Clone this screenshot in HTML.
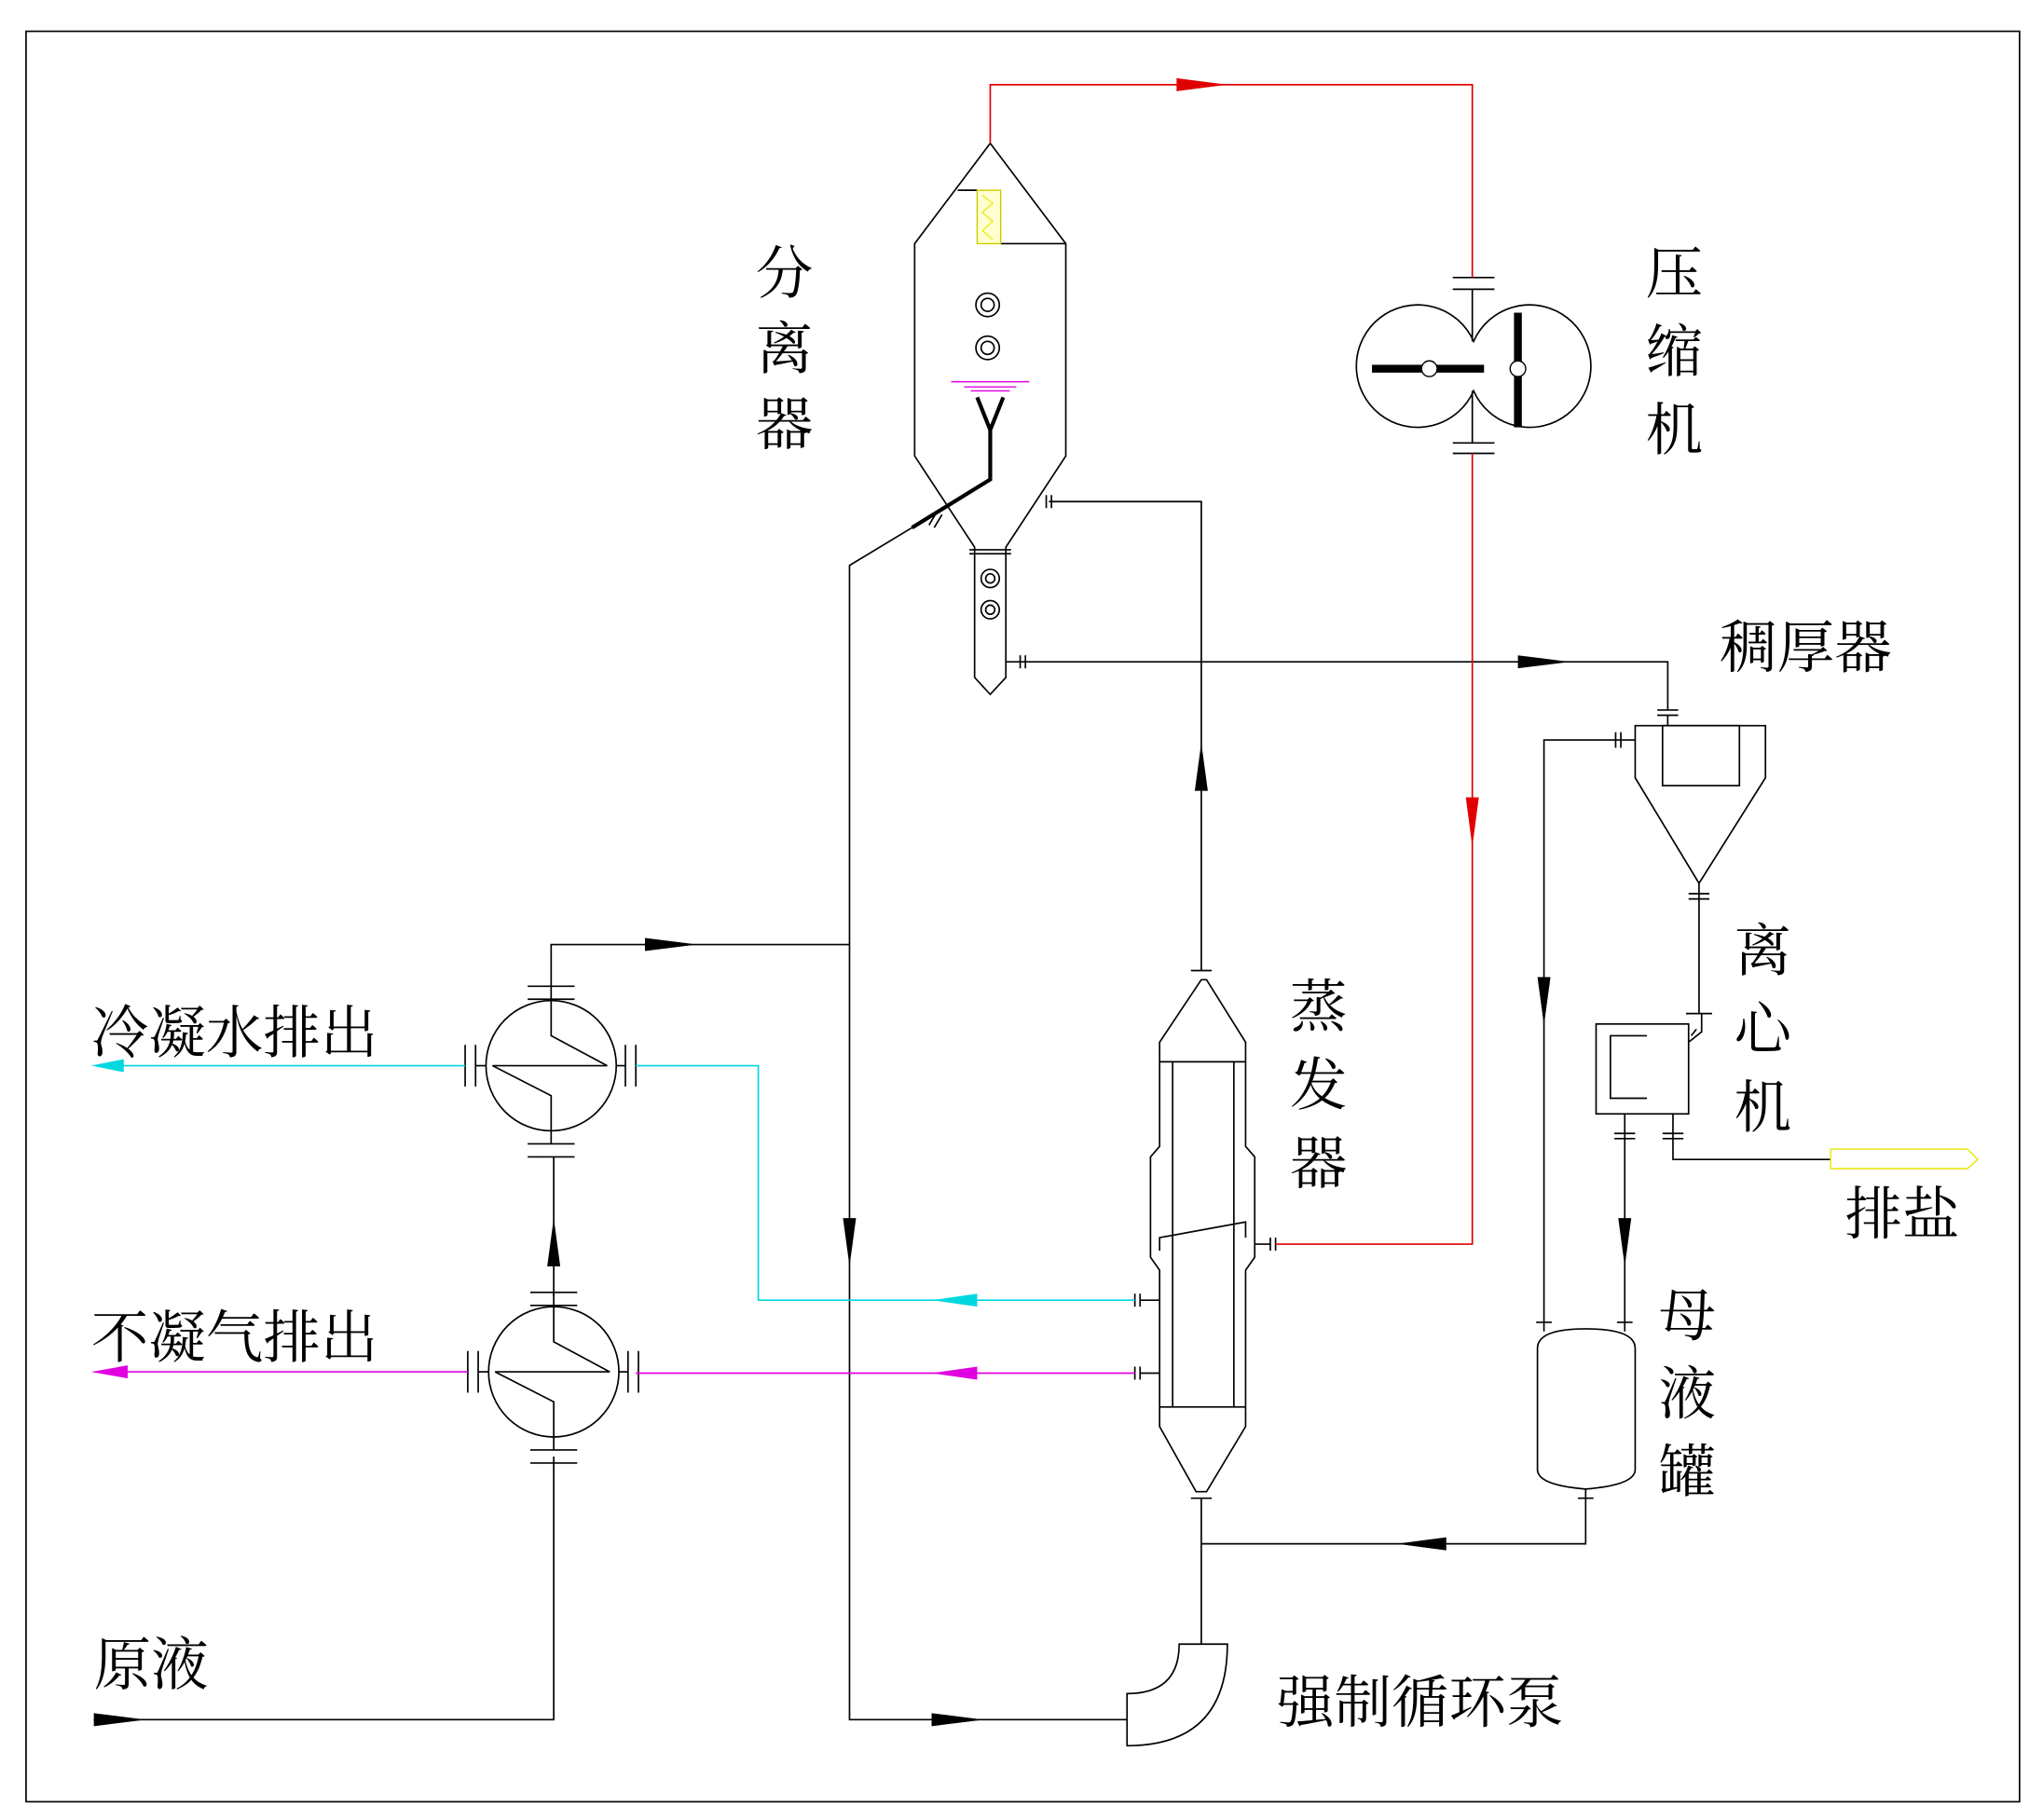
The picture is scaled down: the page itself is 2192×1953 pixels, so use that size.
<!DOCTYPE html>
<html><head><meta charset="utf-8"><style>
html,body{margin:0;padding:0;background:#fff}
svg{display:block}
text{font-family:"Liberation Serif","Noto Serif CJK SC","Noto Sans CJK SC",serif;font-size:44px;fill:#000}
</style></head><body>
<svg width="2192" height="1953" viewBox="0 0 1568 1397" xmlns="http://www.w3.org/2000/svg">
<rect width="1568" height="1397" fill="#fff"/>
<g fill="none" stroke="#000" stroke-width="1.2">
<rect x="20" y="24" width="1530" height="1359"/>
<!-- separator -->
<path d="M760,110 L702,187 L702,350 L748,420 L748,520 L760,533 L772,520 L772,420 L818,350 L818,187 Z"/>
<line x1="744" y1="422" x2="776" y2="422"/><line x1="744" y1="425" x2="776" y2="425"/>
<line x1="735" y1="146" x2="750" y2="146"/><line x1="768" y1="187" x2="818" y2="187"/>
<circle cx="758" cy="234" r="9"/><circle cx="758" cy="234" r="5"/>
<circle cx="758" cy="267" r="9"/><circle cx="758" cy="267" r="5"/>
<circle cx="760" cy="444" r="7"/><circle cx="760" cy="444" r="3.5"/>
<circle cx="760" cy="468" r="7"/><circle cx="760" cy="468" r="3.5"/>
<!-- compressor -->
<path d="M1131,262 A47,47 0 1 0 1131,300 A47,47 0 1 0 1131,262 Z"/>
<line x1="1115" y1="213" x2="1147" y2="213"/><line x1="1115" y1="222" x2="1147" y2="222"/>
<line x1="1115" y1="340" x2="1147" y2="340"/><line x1="1115" y1="348" x2="1147" y2="348"/>
<line x1="1130" y1="222" x2="1130" y2="262"/><line x1="1130" y1="300" x2="1130" y2="340"/>
<!-- black process lines -->
<path d="M700,405 L652,434 L652,1320 L865,1320"/>
<path d="M805,385 L922,385 L922,745"/>
<path d="M772,508 L1280,508 L1280,545"/>
<line x1="803" y1="380" x2="803" y2="390"/><line x1="807" y1="380" x2="807" y2="390"/>
<line x1="783" y1="503" x2="783" y2="513"/><line x1="787" y1="503" x2="787" y2="513"/>
<line x1="713" y1="403" x2="719" y2="393"/><line x1="717" y1="405" x2="723" y2="395"/>
<!-- thickener -->
<path d="M1255,557 L1355,557 L1355,597 L1304,678 L1255,597 Z"/>
<rect x="1276" y="557" width="59" height="46"/>
<line x1="1272" y1="545" x2="1288" y2="545"/><line x1="1272" y1="549" x2="1288" y2="549"/>
<line x1="1280" y1="549" x2="1280" y2="557"/>
<path d="M1255,568 L1185,568 L1185,1015"/>
<line x1="1240" y1="562" x2="1240" y2="574"/><line x1="1244" y1="562" x2="1244" y2="574"/>
<line x1="1296" y1="686" x2="1312" y2="686"/><line x1="1296" y1="690" x2="1312" y2="690"/>
<path d="M1304,678 L1304,778"/>
<!-- centrifuge -->
<rect x="1225" y="786" width="71" height="69"/>
<path d="M1264,795 L1236,795 L1236,843 L1264,843"/>
<path d="M1296,800 L1306,792 L1306,778 M1298,795 L1302,790 M1294,778 L1314,778"/>
<path d="M1247,855 L1247,1015 M1284,855 L1284,890 L1405,890"/>
<line x1="1239" y1="870" x2="1255" y2="870"/><line x1="1239" y1="874" x2="1255" y2="874"/>
<line x1="1276" y1="870" x2="1292" y2="870"/><line x1="1276" y1="874" x2="1292" y2="874"/>
<!-- mother tank -->
<path d="M1180,1035 Q1180,1020 1217,1020 Q1255,1020 1255,1035 L1255,1128 Q1255,1140 1217,1143 Q1180,1140 1180,1128 Z"/>
<line x1="1179" y1="1015" x2="1191" y2="1015"/><line x1="1241" y1="1015" x2="1253" y2="1015"/>
<line x1="1185" y1="1015" x2="1185" y2="1022"/><line x1="1247" y1="1015" x2="1247" y2="1022"/>
<path d="M1217,1143 L1217,1185 L922,1185"/>
<line x1="1211" y1="1150" x2="1223" y2="1150"/>
<!-- evaporator -->
<path d="M922,752 L890,800 L890,880 L883,888 L883,965 L890,975 L890,1095 L918,1145 L926,1145 L956,1095 L956,975 L963,965 L963,888 L956,880 L956,800 L926,752 Z"/>
<line x1="890" y1="815" x2="956" y2="815"/><line x1="890" y1="1080" x2="956" y2="1080"/>
<line x1="900" y1="815" x2="900" y2="1080"/><line x1="947" y1="815" x2="947" y2="1080"/>
<path d="M890,960 L890,950 L956,938 L956,950"/>
<line x1="914" y1="745" x2="930" y2="745"/><line x1="914" y1="1150" x2="930" y2="1150"/>
<path d="M922,1150 L922,1262"/>
<line x1="963" y1="955" x2="975" y2="955"/><line x1="975" y1="950" x2="975" y2="960"/><line x1="979" y1="950" x2="979" y2="960"/>
<line x1="875" y1="998" x2="890" y2="998"/><line x1="875" y1="993" x2="875" y2="1003"/><line x1="871" y1="993" x2="871" y2="1003"/>
<line x1="875" y1="1054" x2="890" y2="1054"/><line x1="875" y1="1049" x2="875" y2="1059"/><line x1="871" y1="1049" x2="871" y2="1059"/>
<!-- pump -->
<path d="M905,1262 L942,1262 Q942,1340 865,1340 L865,1300 Q905,1300 905,1262 Z"/>
<!-- heat exchangers -->
<g id="hx">
<circle cx="423" cy="818" r="50"/>
<path d="M423,768 L423,795 L466,818 L378,818 L423,841 L423,868"/>
<line x1="405" y1="757" x2="441" y2="757"/><line x1="405" y1="767" x2="441" y2="767"/>
<line x1="405" y1="878" x2="441" y2="878"/><line x1="405" y1="888" x2="441" y2="888"/>
<line x1="357" y1="802" x2="357" y2="834"/><line x1="365" y1="802" x2="365" y2="834"/>
<line x1="480" y1="802" x2="480" y2="834"/><line x1="488" y1="802" x2="488" y2="834"/>
<line x1="365" y1="818" x2="373" y2="818"/><line x1="473" y1="818" x2="480" y2="818"/>
<line x1="423" y1="868" x2="423" y2="878"/><line x1="423" y1="757" x2="423" y2="767"/>
</g>
<use href="#hx" transform="translate(2,235)"/>
<path d="M423,757 L423,725 L652,725"/>
<path d="M425,888 L425,995"/>
<path d="M425,1118 L425,1320 L72,1320"/>
</g>
<!-- bold distributor -->
<path d="M750,305 L760,330 L770,305 M760,330 L760,368 L700,405" fill="none" stroke="#000" stroke-width="3"/>
<g stroke="#e000e0" stroke-width="1"><line x1="730" y1="293" x2="790" y2="293"/><line x1="740" y1="297" x2="780" y2="297"/><line x1="745" y1="300" x2="775" y2="300"/></g>
<rect x="750" y="146" width="18" height="41" fill="#ffffd0" stroke="#cccc00" stroke-width="1"/>
<path d="M754,150 L762,156 L754,163 L762,170 L754,177 L762,184" fill="none" stroke="#e6e600" stroke-width="0.8"/>
<!-- compressor internals -->
<g fill="#000"><rect x="1053" y="280" width="86" height="6"/><rect x="1162" y="240" width="6" height="88"/></g>
<circle cx="1097" cy="283" r="6" fill="#fff" stroke="#000"/><circle cx="1165" cy="283" r="6" fill="#fff" stroke="#000"/>
<!-- red line -->
<path d="M760,110 L760,65 L1130,65 L1130,213 M1130,348 L1130,955 L979,955" fill="none" stroke="#e00000" stroke-width="1.2"/>
<!-- cyan & magenta -->
<path d="M871,998 L582,998 L582,818 L488,818 M357,818 L85,818" fill="none" stroke="#00d8e0" stroke-width="1.2"/>
<path d="M871,1054 L488,1054 M359,1053 L85,1053" fill="none" stroke="#e000e0" stroke-width="1.2"/>
<!-- yellow salt arrow -->
<path d="M1405,882 L1510,882 L1518,890 L1510,897 L1405,897 Z" fill="#fff" stroke="#e6e600" stroke-width="1"/>
<!-- arrowheads -->
<g fill="#000">
<path d="M495,720 L535,725 L495,730 Z"/>
<path d="M715,1315 L755,1320 L715,1325 Z"/>
<path d="M72,1315 L112,1320 L72,1325 Z"/>
<path d="M1165,503 L1205,508 L1165,513 Z"/>
<path d="M647,935 L652,972 L657,935 Z"/>
<path d="M1180,750 L1185,787 L1190,750 Z"/>
<path d="M1242,935 L1247,972 L1252,935 Z"/>
<path d="M420,972 L425,935 L430,972 Z"/>
<path d="M917,607 L922,570 L927,607 Z"/>
<path d="M1110,1180 L1072,1185 L1110,1190 Z"/>
</g>
<path d="M903,60 L942,65 L903,70 Z" fill="#e00000"/>
<path d="M1125,612 L1130,650 L1135,612 Z" fill="#e00000"/>
<path d="M750,993 L715,998 L750,1003 Z" fill="#00d8e0"/>
<path d="M95,813 L70,818 L95,823 Z" fill="#00d8e0"/>
<path d="M750,1049 L715,1054 L750,1059 Z" fill="#e000e0"/>
<path d="M98,1048 L70,1053 L98,1058 Z" fill="#e000e0"/>
<!-- labels -->
<text x="580" y="225">分</text><text x="580" y="283">离</text><text x="580" y="341">器</text>
<text x="1263" y="225">压</text><text x="1263" y="285">缩</text><text x="1263" y="345">机</text>
<text x="1320" y="512">稠厚器</text>
<text x="1331" y="745">离</text><text x="1331" y="805">心</text><text x="1331" y="865">机</text>
<text x="990" y="788">蒸</text><text x="990" y="848">发</text><text x="990" y="908">器</text>
<text x="1416" y="947">排盐</text>
<text x="1273" y="1025">母</text><text x="1273" y="1085">液</text><text x="1273" y="1145">罐</text>
<text x="70" y="808">冷凝水排出</text>
<text x="70" y="1042">不凝气排出</text>
<text x="72" y="1293">原液</text>
<text x="980" y="1322">强制循环泵</text>
</svg>
</body></html>
